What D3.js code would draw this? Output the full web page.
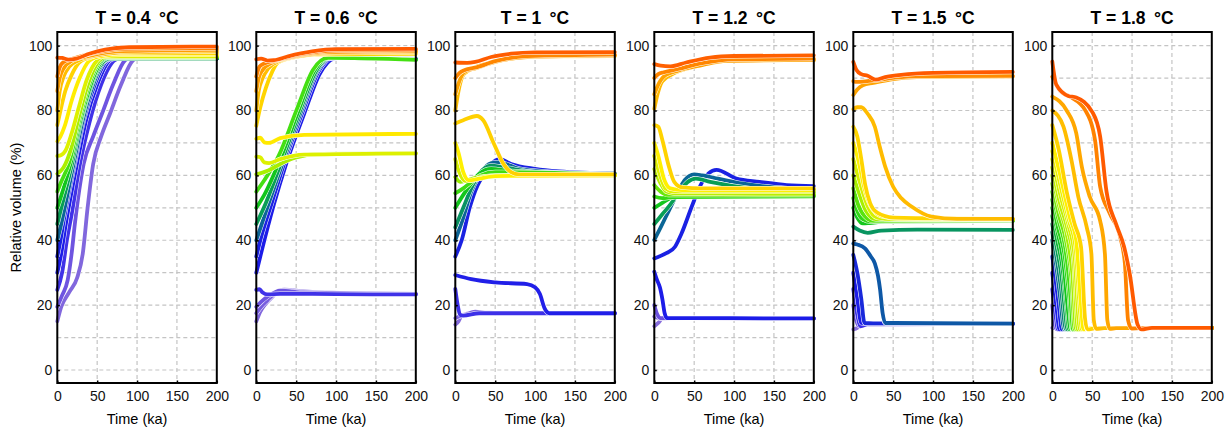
<!DOCTYPE html>
<html>
<head>
<meta charset="utf-8">
<script src="https://cdn.jsdelivr.net/npm/d3@7/dist/d3.min.js"></script>
<style>
  body { margin: 0; background: #fff; }
  text { font-family: "Liberation Sans", Arial, Helvetica, sans-serif; }
</style>
</head>
<body>
<div id="chart"></div>
<script>
// Panel titles, ticks and grid values
var temps = ["0.4", "0.6", "1", "1.2", "1.5", "1.8"];
var timeTicks = [0, 50, 100, 150, 200];
var volumeTicks = [0, 20, 40, 60, 80, 100];
var gridVolumes = [0, 10, 20, 30, 40, 50, 60, 70, 80, 90, 100];
var gridTimes = [50, 100, 150];

// colour of a run follows its starting volume
var colorStops = [13, 20, 25, 30, 35, 40, 45, 50, 55, 60, 65, 70, 75, 80, 85, 90, 95];
var colorValues = ["#8a70dc", "#6c52e0", "#3d30e8", "#1c1ce8", "#1a22e2", "#0b6597", "#089e55", "#12c61c",
  "#44e012", "#a6ef00", "#d6f000", "#fff000", "#ffd500", "#ffbd00", "#ffa300", "#ff8600", "#ff5a00"];

// runs: [time (ka), relative volume (%)]
var runs04 = [
  [[0,15],[5,19.5],[15,24],[25,28.5],[32,36],[38,50],[45,63.5],[55,72],[66,79],[80,88],[95,95.5],[100,96],[200,96]],
  [[0,19.5],[6,23],[13,27.7],[18,36],[22,45],[33,63.5],[45,72],[56,79],[70,88],[85,95.5],[90,96],[200,96]],
  [[0,24.7],[6,30],[12,40],[18,48],[28,63],[40,76],[55,88],[72,95.5],[78,96],[200,96]],
  [[0,30],[5,36],[10,44],[25,64],[36,77],[50,88],[66,95.5],[72,96],[200,96]],
  [[0,35],[4,40],[8,46],[22,64],[33,77],[47,88],[63,95.5],[69,96],[200,96]],
  [[0,40],[4,44],[20,63],[31,76],[45,88],[61,95.5],[67,96],[200,96]],
  [[0,45],[3,48],[18,63],[29,76],[43,88],[60,95.5],[66,96],[200,96]],
  [[0,50],[4,53],[16,63],[28,76],[42,88],[57,95.5],[63,96.2],[200,96.2]],
  [[0,55],[4,57.5],[15,64],[27,76.5],[40,88],[55,95.5],[62,96.3],[200,96.3]],
  [[0,60.5],[4,61.3],[8,62.5],[17,68],[27,78],[39,88.5],[53,95.5],[60,96.5],[200,96.5]],
  [[0,66],[5,66.3],[10,67.5],[18,73],[27,81],[37,89.5],[50,95.5],[58,96.7],[200,96.7]],
  [[0,70.5],[4,72],[9,75],[18,83],[28,90],[40,95.3],[55,96.8],[80,97.2],[200,97.2]],
  [[0,75.5],[4,80],[10,86],[18,91],[27,94.7],[40,96.3],[70,97.6],[200,97.7]],
  [[0,80],[3,86],[8,90.5],[15,93.5],[27,95.5],[50,97],[90,98],[200,98.2]],
  [[0,86],[3,90],[8,93],[18,95.3],[40,96.8],[80,98.3],[200,98.7]],
  [[0,90.5],[3,93.3],[8,95],[20,96],[45,97.7],[85,99],[200,99.2]],
  [[0,96.3],[6,96.2],[14,95.7],[24,96],[40,97.5],[60,98.8],[90,99.5],[200,99.7]]
];

var runs06 = [
  [[0,15],[5,18],[12,20.5],[20,22.5],[28,24.5],[35,24.8],[60,24.2],[120,23.7],[200,23.5]],
  [[0,17.5],[6,19.5],[14,21.5],[24,23.8],[33,24.6],[60,24],[200,23.5]],
  [[0,19.5],[6,21],[15,22.8],[30,24.5],[60,23.9],[200,23.4]],
  [[0,24.7],[4,24.9],[8,23.9],[14,23.3],[30,23.5],[100,23.4],[200,23.3]],
  [[0,30],[5,35],[22,51],[38,64],[60,79],[80,91.5],[97,96],[110,96.3],[200,95.9]],
  [[0,35],[5,40],[20,52],[36,64.5],[58,79.5],[78,92],[95,96.2],[110,96.3],[200,95.9]],
  [[0,40],[15,51],[34,64.5],[56,79.5],[76,92],[93,96.2],[200,95.8]],
  [[0,45],[12,51.5],[32,64.5],[55,80],[75,92.2],[92,96.2],[200,95.7]],
  [[0,50],[10,54],[30,65],[53,80],[73,92.3],[91,96.2],[200,95.7]],
  [[0,55],[10,58.5],[28,66],[51,80.5],[71,92.5],[90,96.2],[200,95.6]],
  [[0,60.3],[15,61.5],[30,63.5],[50,65.5],[80,66.6],[200,66.8]],
  [[0,65.8],[5,65.6],[10,64],[16,63.8],[30,65],[60,66.4],[200,66.8]],
  [[0,71.3],[5,71.6],[10,70.2],[16,70],[30,71.5],[60,72.5],[200,72.8]],
  [[0,75.3],[5,81],[12,87],[20,92],[27,94.8],[40,96],[80,97.3],[200,97.5]],
  [[0,80],[3,86],[8,90],[15,93],[28,95.2],[60,97],[100,97.8],[200,98]],
  [[0,86],[3,90],[8,92.5],[18,94.5],[45,96.5],[90,98],[200,98.3]],
  [[0,90.5],[4,93.5],[10,94.5],[25,95.5],[55,97.3],[100,98.5],[200,98.7]],
  [[0,95.8],[6,96],[14,95.4],[22,95.5],[40,96.7],[70,98.2],[100,98.9],[200,99]]
];

var runs10 = [
  [[0,14],[4,15],[8,16.8],[25,17.8],[60,17.6],[200,17.5]],
  [[0,16],[5,16.5],[12,17],[25,18],[40,17.6],[200,17.5]],
  [[0,25],[3,20],[6,17],[10,16.8],[30,17.5],[200,17.5]],
  [[0,29.3],[20,28],[50,27],[90,26.5],[100,25.5],[106,23.5],[112,19],[118,17.5],[200,17.5]],
  [[0,35],[8,40],[18,50],[28,57],[35,60],[45,63.5],[56,65],[70,63.5],[100,62],[130,61.2],[200,60.5]],
  [[0,40],[10,47],[20,55],[30,60],[45,63.8],[55,64],[80,62],[120,61],[200,60.5]],
  [[0,44],[10,50],[20,56],[30,60.5],[45,63],[60,62.5],[100,61],[200,60.3]],
  [[0,50],[10,54],[20,57.5],[30,60.5],[45,62],[70,61.3],[200,60.2]],
  [[0,54.5],[10,56],[20,58],[32,60],[50,61],[200,60.2]],
  [[0,59.5],[6,58],[15,58.5],[30,59.5],[60,60],[200,60]],
  [[0,65],[5,61],[12,58.3],[22,58.5],[40,59.7],[200,60]],
  [[0,70],[4,67],[10,61],[17,58.5],[30,59],[50,59.8],[200,60]],
  [[0,76],[10,77],[27,78.3],[35,77],[48,70],[60,63.7],[70,61],[80,60.3],[200,60.3]],
  [[0,80],[4,86],[10,91],[18,92.5],[40,94.5],[70,96],[100,96.7],[200,96.8]],
  [[0,85],[5,89],[12,92],[25,93],[50,95],[90,96.5],[200,97]],
  [[0,90],[5,91.5],[12,92.5],[25,93.2],[50,95.2],[90,96.8],[200,97.2]],
  [[0,94.8],[15,94.7],[25,95],[45,96.5],[70,97.5],[100,97.9],[200,98]]
];

var runs12 = [
  [[0,13.5],[5,14.5],[10,15.8],[40,16],[200,15.9]],
  [[0,16.5],[6,16],[40,16],[200,15.9]],
  [[0,20],[4,17],[8,16],[40,16],[200,15.9]],
  [[0,30.3],[3,28],[7,25.5],[10,22],[13,17.5],[16,16],[30,16],[200,15.9]],
  [[0,34.4],[15,36],[26,38],[34,42],[47,50.4],[57,56.5],[68,60.6],[78,61.7],[103,59],[132,58],[166,57],[200,56.7]],
  [[0,40.1],[8,44],[18,49],[28,54],[38,58.5],[50,60.3],[60,60],[80,59],[110,57.5],[150,56.3],[200,55.6]],
  [[0,45],[10,48],[20,51],[30,54.5],[42,58],[52,59],[70,58],[120,56],[200,54.8]],
  [[0,50],[10,51.5],[20,53],[35,54],[60,54],[200,53.8]],
  [[0,53.5],[10,53],[25,53.3],[200,53.5]],
  [[0,57],[8,55],[18,54],[40,54],[200,54]],
  [[0,62],[8,57.5],[15,55],[25,54.5],[200,54.3]],
  [[0,66],[6,61],[14,56],[25,55],[200,55]],
  [[0,70],[5,66],[12,59],[20,56],[35,55.5],[200,55.5]],
  [[0,75.5],[5,75],[10,71],[18,63],[25,58],[35,56.3],[60,56],[200,56]],
  [[0,80.5],[4,85],[10,89],[25,91.5],[50,93.5],[80,95],[100,95.5],[200,95.5]],
  [[0,85],[5,88],[12,90.5],[30,92.3],[60,94],[90,95.3],[200,95.6]],
  [[0,90],[5,91.2],[12,91.8],[30,92.8],[60,94.6],[100,95.8],[200,96]],
  [[0,94.3],[8,93.8],[20,93.6],[40,94.8],[70,96.3],[100,96.8],[200,97]]
];

var runs15 = [
  [[0,12.5],[5,13],[10,14],[30,14.4],[200,14.3]],
  [[0,20],[4,15],[8,13.5],[15,14],[200,14.3]],
  [[0,25],[5,17],[9,13.5],[20,14.2],[200,14.3]],
  [[0,30],[5,22],[10,14.5],[20,14.2],[200,14.3]],
  [[0,35.5],[5,30],[10,22],[14,14.5],[25,14.4],[200,14.3]],
  [[0,39],[5,38.7],[14.6,37.5],[22,35],[27,32.9],[31,29],[33.5,25],[36.8,17.5],[40,14.5],[50,14.5],[200,14.3]],
  [[0,44.2],[8,43],[18,42.3],[35,43],[80,43.3],[200,43.2]],
  [[0,50],[5,47],[12,45.2],[20,45.3],[40,45.8],[200,46]],
  [[0,53],[5,49],[12,46.5],[22,45.8],[200,46]],
  [[0,56],[6,51],[14,47.5],[25,46],[200,46.2]],
  [[0,60],[8,54],[16,49],[28,46.5],[200,46.3]],
  [[0,65],[8,58],[18,50.5],[30,47],[50,46.5],[200,46.4]],
  [[0,70],[6,65],[14,56],[22,50.5],[35,47.5],[60,46.7],[200,46.5]],
  [[0,75],[5,72],[10,65],[15,57],[21,51.5],[30,48.5],[50,47],[200,46.6]],
  [[0,80.4],[5,81],[10,81],[18,79],[27,75],[33,69],[40,62.7],[50,56.5],[60,53],[73,50.4],[98,47.3],[130,46.6],[200,46.6]],
  [[0,84.8],[5,86.5],[12,87.8],[25,88.5],[50,89.7],[80,90.3],[200,90.5]],
  [[0,89],[5,88.8],[15,89],[30,89.4],[60,90.3],[100,90.6],[200,90.7]],
  [[0,95],[4,92.5],[10,91.2],[18,90.7],[28,89.5],[40,90.3],[60,91],[100,91.6],[200,91.9]]
];

var runs18 = [
  [[0,13],[10,12.8],[200,13]],
  [[0,20],[3,14],[6,12.5],[20,12.9],[200,13]],
  [[0,25],[4,17],[7,12.5],[20,12.9],[200,13]],
  [[0,30],[5,20],[9,12.5],[20,12.9],[200,13]],
  [[0,35],[4,28],[8,20],[12,12.5],[25,12.9],[200,13]],
  [[0,40],[5,32],[10,22],[15,12.5],[25,12.9],[200,13]],
  [[0,42.5],[5,35],[11,25],[17,12.5],[27,12.9],[200,13]],
  [[0,45],[6,37],[12,28],[16,18],[19,12.5],[30,12.9],[200,13]],
  [[0,47.5],[6,40],[13,31],[18,19],[21,12.5],[30,12.9],[200,13]],
  [[0,50],[7,42],[14,33],[19,20],[23,12.5],[35,12.9],[200,13]],
  [[0,52.5],[7,44],[15,36],[21,23],[25,12.5],[35,12.9],[200,13]],
  [[0,55],[8,46],[16,38],[22,25],[26,12.5],[35,12.9],[200,13]],
  [[0,57.5],[8,48],[17,40],[24,28],[28,12.5],[40,12.9],[200,13]],
  [[0,60],[9,50],[18,42],[25,30],[30,12.5],[40,12.9],[200,13]],
  [[0,62.5],[9,52],[19,43.5],[27,33],[32,12.5],[40,12.9],[200,13]],
  [[0,65],[10,54],[20,45],[28,35],[33,15],[35,12.5],[45,12.9],[200,13]],
  [[0,67.5],[10,57],[21,46],[29,38],[35,17],[37,12.5],[45,12.9],[200,13]],
  [[0,70],[10,60],[22,47],[30,40],[36,20],[39,12.5],[50,12.9],[200,13]],
  [[0,75.5],[8,68],[18,55],[28,45],[36,38],[41,16],[44,12.5],[55,12.9],[200,13]],
  [[0,80],[14,75],[24,64.7],[32.6,53.4],[43,44.2],[49,35.9],[52,15.4],[55,12.7],[65,12.9],[200,13]],
  [[0,84.3],[18,80],[30,73],[37,62.7],[47,53.4],[60,46],[66,35.7],[69,15.4],[72,12.7],[80,12.9],[200,13]],
  [[0,90.4],[10,86],[22,84.3],[41,80.2],[53.5,71],[60,56.5],[72,48.3],[85,41.1],[91,32.9],[95,15.4],[99.5,12.8],[110,12.9],[200,13]],
  [[0,95.1],[5,88],[20,84.5],[30,84],[50,79.6],[60,72],[68,55],[80,45],[90,38],[97,29.8],[107,14],[112,12.5],[125,13],[200,13]]
];

var panelRuns = [runs04, runs06, runs10, runs12, runs15, runs18];

// layout
var W = 1231, H = 432;
var panelLeft = 57.3, panelStep = 199, panelW = 159.5;
var plotTop = 32, plotBottom = 383;

var svg = d3.select("#chart").append("svg")
  .attr("width", W)
  .attr("height", H);

var x = d3.scaleLinear().domain([0, 200]).range([0, panelW]);
var y = d3.scaleLinear().domain([-4, 104.2]).range([plotBottom, plotTop]);
var color = d3.scaleLinear().domain(colorStops).range(colorValues).clamp(true);

var line = d3.line()
  .x(function(d) { return x(d[0]); })
  .y(function(d) { return y(d[1]); })
  .curve(d3.curveMonotoneX);

panelRuns.forEach(function(runs, i) {
  var g = svg.append("g")
    .attr("transform", "translate(" + (panelLeft + i * panelStep) + ",0)");

  // dashed grid
  g.append("g").selectAll("line.h")
    .data(gridVolumes).enter().append("line")
    .attr("x1", 0).attr("x2", panelW)
    .attr("y1", function(d) { return y(d); })
    .attr("y2", function(d) { return y(d); })
    .attr("stroke", "#c4c4c4").attr("stroke-width", 1.2)
    .attr("stroke-dasharray", "4,3");
  g.append("g").selectAll("line.v")
    .data(gridTimes).enter().append("line")
    .attr("y1", plotTop).attr("y2", plotBottom)
    .attr("x1", function(d) { return x(d); })
    .attr("x2", function(d) { return x(d); })
    .attr("stroke", "#c4c4c4").attr("stroke-width", 1.2)
    .attr("stroke-dasharray", "4,3");

  // runs, each with a thin white casing
  var rg = g.selectAll("g.run")
    .data(runs).enter().append("g").attr("class", "run");
  rg.append("path")
    .attr("d", line)
    .attr("fill", "none")
    .attr("stroke", "#fff")
    .attr("stroke-width", 4.8)
    .attr("stroke-linejoin", "round");
  rg.append("path")
    .attr("d", line)
    .attr("fill", "none")
    .attr("stroke", function(d) { return color(d[0][1]); })
    .attr("stroke-width", 3.8)
    .attr("stroke-linejoin", "round")
    .attr("stroke-linecap", "round");

  // axes with tiny inward ticks
  var yAxis = g.append("g")
    .call(d3.axisLeft(y).tickValues(volumeTicks).tickSize(-2.5).tickPadding(5));
  var xAxis = g.append("g")
    .attr("transform", "translate(0," + plotBottom + ")")
    .call(d3.axisBottom(x).tickValues(timeTicks).tickSize(-2.5).tickPadding(8));
  [yAxis, xAxis].forEach(function(a) {
    a.select(".domain").remove();
    a.selectAll(".tick line").attr("stroke", "#000").attr("stroke-width", 1.5);
    a.selectAll("text")
      .attr("fill", "#111")
      .style("font-size", "14px")
      .style("font-family", "'Liberation Sans', Arial, sans-serif");
  });

  // frame
  g.append("rect")
    .attr("x", 0).attr("y", plotTop)
    .attr("width", panelW).attr("height", plotBottom - plotTop)
    .attr("fill", "none").attr("stroke", "#000").attr("stroke-width", 2);

  g.append("text")
    .attr("x", panelW / 2).attr("y", 24)
    .attr("text-anchor", "middle")
    .style("font-size", "17.5px").style("font-weight", "bold")
    .text("T = " + temps[i] + "\u00a0\u2009\u00b0C");

  g.append("text")
    .attr("x", panelW / 2).attr("y", 424)
    .attr("text-anchor", "middle")
    .style("font-size", "14.5px")
    .text("Time (ka)");
});

svg.append("text")
  .attr("transform", "translate(16," + ((plotTop + plotBottom) / 2) + ") rotate(-90)")
  .attr("text-anchor", "middle")
  .attr("dy", "0.35em")
  .style("font-size", "14.5px")
  .text("Relative volume (%)");
</script>
</body>
</html>
